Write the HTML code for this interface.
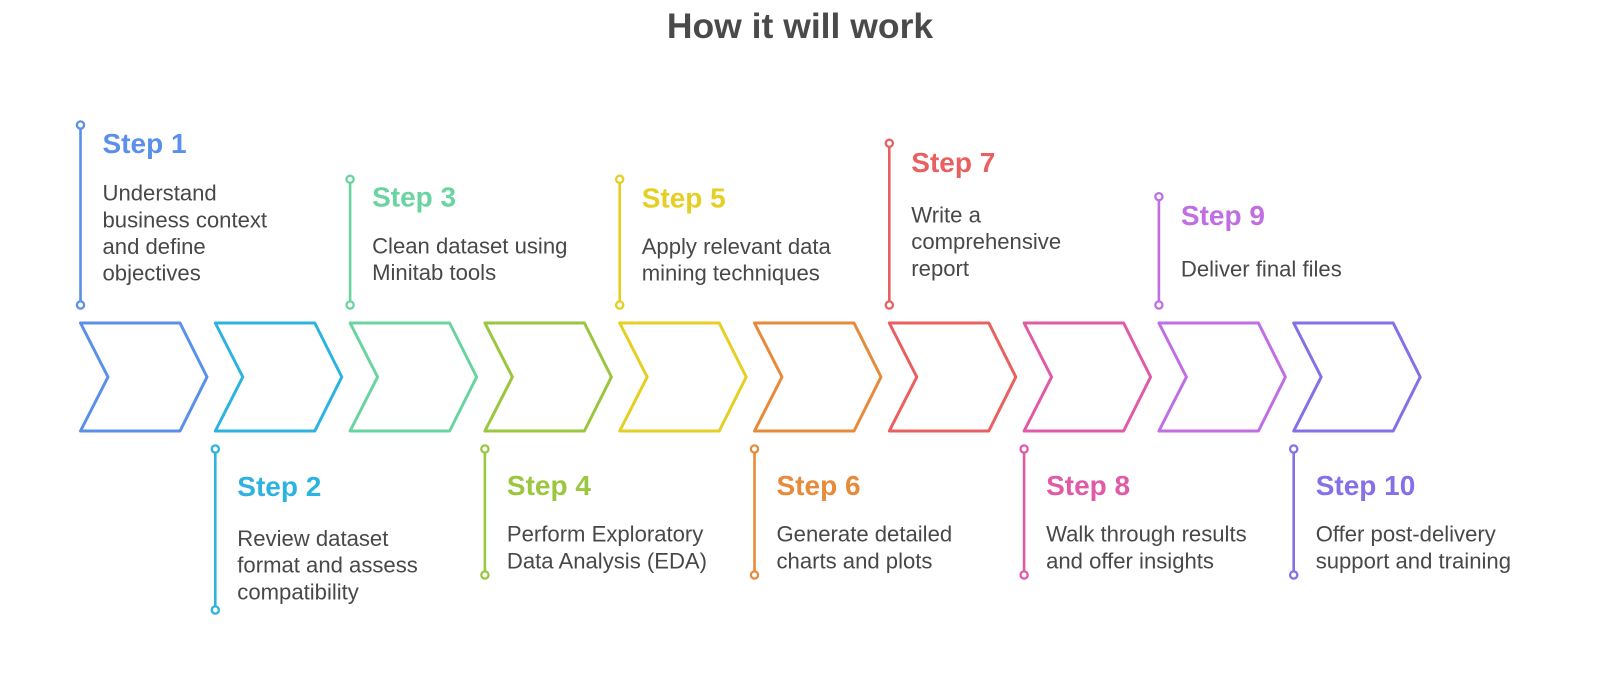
<!DOCTYPE html>
<html>
<head>
<meta charset="utf-8">
<style>
  html,body{margin:0;padding:0;background:#fff;}
  svg{display:block;}
  .t{font-family:"Liberation Sans",Arial,sans-serif;font-weight:bold;font-size:35.5px;fill:#4a4a4a;}
  .h{font-family:"Liberation Sans",Arial,sans-serif;font-weight:bold;font-size:28px;}
  .b{font-family:"Liberation Sans",Arial,sans-serif;font-size:22.1px;fill:#484848;}
</style>
</head>
<body>
<svg width="1600" height="683" viewBox="0 0 1600 683" xmlns="http://www.w3.org/2000/svg">
  <rect width="1600" height="683" fill="#fff"/>
  <text class="t" x="800" y="38" text-anchor="middle">How it will work</text>

  <!-- Chevrons -->
  <g fill="none" stroke-width="3" stroke-linejoin="round">
    <polygon stroke="#5A8FEA" points="80.5,323 180,323 207,377 180,431 80.5,431 108,377"/>
    <polygon stroke="#2DB3E0" points="215.3,323 314.8,323 341.8,377 314.8,431 215.3,431 242.8,377"/>
    <polygon stroke="#6AD4A0" points="350.1,323 449.6,323 476.6,377 449.6,431 350.1,431 377.6,377"/>
    <polygon stroke="#9BC63F" points="484.9,323 584.4,323 611.4,377 584.4,431 484.9,431 512.4,377"/>
    <polygon stroke="#E5CF22" points="619.7,323 719.2,323 746.2,377 719.2,431 619.7,431 647.2,377"/>
    <polygon stroke="#E78B3A" points="754.5,323 854,323 881,377 854,431 754.5,431 782,377"/>
    <polygon stroke="#E8605F" points="889.3,323 988.8,323 1015.8,377 988.8,431 889.3,431 916.8,377"/>
    <polygon stroke="#E05AA8" points="1024.1,323 1123.6,323 1150.6,377 1123.6,431 1024.1,431 1051.6,377"/>
    <polygon stroke="#C06EE3" points="1158.9,323 1258.4,323 1285.4,377 1258.4,431 1158.9,431 1186.4,377"/>
    <polygon stroke="#8570E8" points="1293.7,323 1393.2,323 1420.2,377 1393.2,431 1293.7,431 1321.2,377"/>
  </g>

  <!-- Connector lines -->
  <g stroke-width="2.6">
    <line x1="80.5" y1="125" x2="80.5" y2="305" stroke="#5A8FEA"/>
    <line x1="215.3" y1="449" x2="215.3" y2="610" stroke="#2DB3E0"/>
    <line x1="350.1" y1="179.3" x2="350.1" y2="305" stroke="#6AD4A0"/>
    <line x1="484.9" y1="449" x2="484.9" y2="575" stroke="#9BC63F"/>
    <line x1="619.7" y1="179.3" x2="619.7" y2="305" stroke="#E5CF22"/>
    <line x1="754.5" y1="449" x2="754.5" y2="575" stroke="#E78B3A"/>
    <line x1="889.3" y1="143.3" x2="889.3" y2="305" stroke="#E8605F"/>
    <line x1="1024.1" y1="449" x2="1024.1" y2="575" stroke="#E05AA8"/>
    <line x1="1158.9" y1="196.7" x2="1158.9" y2="305" stroke="#C06EE3"/>
    <line x1="1293.7" y1="449" x2="1293.7" y2="575" stroke="#8570E8"/>
  </g>

  <!-- Dots -->
  <g fill="#fff" stroke-width="2.3">
    <circle cx="80.5" cy="125" r="3.6" stroke="#5A8FEA"/>
    <circle cx="80.5" cy="305" r="3.6" stroke="#5A8FEA"/>
    <circle cx="215.3" cy="449" r="3.6" stroke="#2DB3E0"/>
    <circle cx="215.3" cy="610" r="3.6" stroke="#2DB3E0"/>
    <circle cx="350.1" cy="179.3" r="3.6" stroke="#6AD4A0"/>
    <circle cx="350.1" cy="305" r="3.6" stroke="#6AD4A0"/>
    <circle cx="484.9" cy="449" r="3.6" stroke="#9BC63F"/>
    <circle cx="484.9" cy="575" r="3.6" stroke="#9BC63F"/>
    <circle cx="619.7" cy="179.3" r="3.6" stroke="#E5CF22"/>
    <circle cx="619.7" cy="305" r="3.6" stroke="#E5CF22"/>
    <circle cx="754.5" cy="449" r="3.6" stroke="#E78B3A"/>
    <circle cx="754.5" cy="575" r="3.6" stroke="#E78B3A"/>
    <circle cx="889.3" cy="143.3" r="3.6" stroke="#E8605F"/>
    <circle cx="889.3" cy="305" r="3.6" stroke="#E8605F"/>
    <circle cx="1024.1" cy="449" r="3.6" stroke="#E05AA8"/>
    <circle cx="1024.1" cy="575" r="3.6" stroke="#E05AA8"/>
    <circle cx="1158.9" cy="196.7" r="3.6" stroke="#C06EE3"/>
    <circle cx="1158.9" cy="305" r="3.6" stroke="#C06EE3"/>
    <circle cx="1293.7" cy="449" r="3.6" stroke="#8570E8"/>
    <circle cx="1293.7" cy="575" r="3.6" stroke="#8570E8"/>
  </g>

  <!-- Step 1 -->
  <text class="h" x="102.5" y="153" fill="#5A8FEA">Step 1</text>
  <text class="b" x="102.5" y="200.7">Understand</text>
  <text class="b" x="102.5" y="227.3">business context</text>
  <text class="b" x="102.5" y="254">and define</text>
  <text class="b" x="102.5" y="280.7">objectives</text>

  <!-- Step 2 -->
  <text class="h" x="237.3" y="496" fill="#2DB3E0">Step 2</text>
  <text class="b" x="237.3" y="546">Review dataset</text>
  <text class="b" x="237.3" y="572.7">format and assess</text>
  <text class="b" x="237.3" y="599.3">compatibility</text>

  <!-- Step 3 -->
  <text class="h" x="372.1" y="206.5" fill="#6AD4A0">Step 3</text>
  <text class="b" x="372.1" y="253.5">Clean dataset using</text>
  <text class="b" x="372.1" y="280.2">Minitab tools</text>

  <!-- Step 4 -->
  <text class="h" x="506.9" y="495" fill="#9BC63F">Step 4</text>
  <text class="b" x="506.9" y="541.7">Perform Exploratory</text>
  <text class="b" x="506.9" y="568.3">Data Analysis (EDA)</text>

  <!-- Step 5 -->
  <text class="h" x="641.7" y="207.5" fill="#E5CF22">Step 5</text>
  <text class="b" x="641.7" y="254">Apply relevant data</text>
  <text class="b" x="641.7" y="280.7">mining techniques</text>

  <!-- Step 6 -->
  <text class="h" x="776.5" y="495" fill="#E78B3A">Step 6</text>
  <text class="b" x="776.5" y="541.7">Generate detailed</text>
  <text class="b" x="776.5" y="568.3">charts and plots</text>

  <!-- Step 7 -->
  <text class="h" x="911.3" y="172" fill="#E8605F">Step 7</text>
  <text class="b" x="911.3" y="222.5">Write a</text>
  <text class="b" x="911.3" y="249.2">comprehensive</text>
  <text class="b" x="911.3" y="275.8">report</text>

  <!-- Step 8 -->
  <text class="h" x="1046.1" y="495" fill="#E05AA8">Step 8</text>
  <text class="b" x="1046.1" y="541.7">Walk through results</text>
  <text class="b" x="1046.1" y="568.3">and offer insights</text>

  <!-- Step 9 -->
  <text class="h" x="1180.9" y="225" fill="#C06EE3">Step 9</text>
  <text class="b" x="1180.9" y="276.7">Deliver final files</text>

  <!-- Step 10 -->
  <text class="h" x="1315.7" y="495" fill="#8570E8">Step 10</text>
  <text class="b" x="1315.7" y="541.7">Offer post-delivery</text>
  <text class="b" x="1315.7" y="568.3">support and training</text>
</svg>
</body>
</html>
